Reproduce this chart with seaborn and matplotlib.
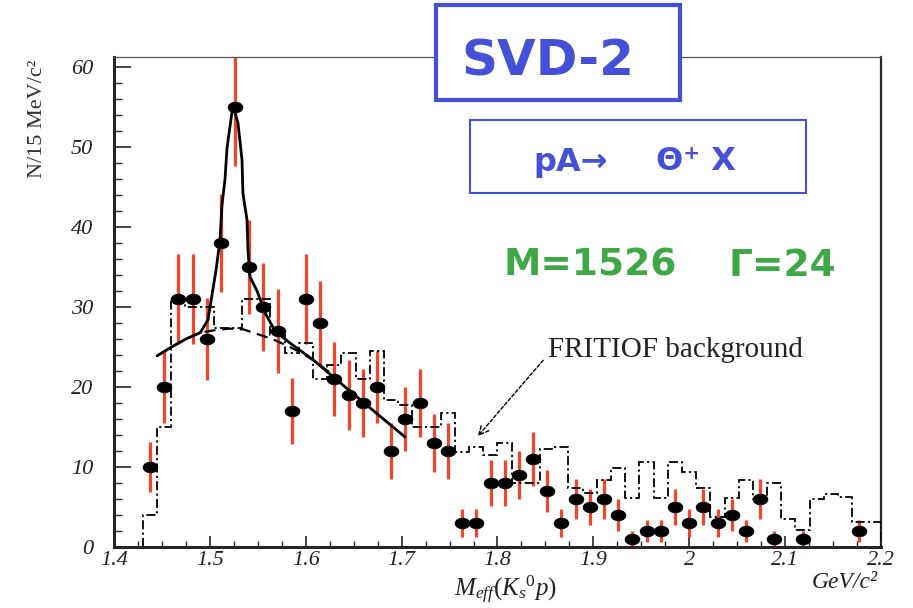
import numpy as np
import matplotlib
matplotlib.use("Agg")
import matplotlib.pyplot as plt
import seaborn as sns
import pandas as pd
from matplotlib.path import Path
from matplotlib.patches import Rectangle
from matplotlib.ticker import MultipleLocator, FixedLocator

# ---------------- data ----------------
mass = [1.4375, 1.4523, 1.4671, 1.4819, 1.4967, 1.5115, 1.5263, 1.5411, 1.5559, 1.5707,
        1.5855, 1.6003, 1.6151, 1.6299, 1.6447, 1.6595, 1.6743, 1.6891, 1.7039, 1.7187,
        1.7335, 1.7483, 1.7631, 1.7779, 1.7927, 1.8075, 1.8223, 1.8371, 1.8519, 1.8667,
        1.8815, 1.8963, 1.9111, 1.9259, 1.9407, 1.9555, 1.9703, 1.9851, 1.9999, 2.0147,
        2.0295, 2.0443, 2.0591, 2.0739, 2.0887, 2.1183, 2.1775]
counts = [10, 20, 31, 31, 26, 38, 55, 35, 30, 27,
          17, 31, 28, 21, 19, 18, 20, 12, 16, 18,
          13, 12, 3, 3, 8, 8, 9, 11, 7, 3,
          6, 5, 6, 4, 1, 2, 2, 5, 3, 5,
          3, 4, 2, 6, 1, 1, 2]

# FRITIOF background histogram
bkg_start = 1.43
bkg_width = 0.0148
bkg_values = [4, 15, 31, 30, 30, 27.4, 27.4, 31, 31, 26.5,
              24.3, 25.5, 21, 22.7, 24.3, 21, 24.5, 18.4, 17.7, 15,
              15, 16.7, 11.9, 12.5, 11.5, 13, 8, 8, 12.2, 12.5,
              7.4, 6.7, 8.4, 9.9, 6.1, 10.6, 6.1, 10.6, 9.4, 7.4,
              3.7, 6.1, 8.4, 6, 8, 3.5, 2.1, 6, 6.6, 6.3,
              3.1, 3.1]

# fit: signal + background (solid) and background only (dashed)
fit_x = [1.445, 1.46, 1.475, 1.49, 1.498, 1.5064, 1.5106, 1.5126, 1.5158, 1.5179,
         1.5241, 1.5293, 1.5335, 1.5345, 1.5387, 1.5398, 1.5418, 1.5492, 1.5575, 1.5679,
         1.5836, 1.6076, 1.6535, 1.7035]
fit_y = [23.9, 25.0, 26.0, 26.8, 28.4, 34.6, 38.4, 42.7, 46.0, 49.9,
         55.25, 53.0, 48.4, 44.2, 40.9, 37.0, 33.8, 32.0, 29.3, 27.0,
         25.5, 23.4, 18.75, 13.75]
bg_x = [1.445, 1.46, 1.475, 1.49, 1.505, 1.52, 1.535, 1.55, 1.565, 1.58, 1.595, 1.61, 1.625]
bg_y = [23.9, 25.0, 26.0, 26.8, 27.1, 27.3, 27.2, 26.6, 26.0, 25.2, 24.3, 23.2, 21.8]

xticks = [1.4, 1.5, 1.6, 1.7, 1.8, 1.9, 2.0, 2.1, 2.2]
xtick_labels = ["1.4", "1.5", "1.6", "1.7", "1.8", "1.9", "2", "2.1", "2.2"]
yticks = [0, 10, 20, 30, 40, 50, 60]
ytick_labels = ["0", "10", "20", "30", "40", "50", "60"]

# ---------------- style ----------------
sns.set_style("ticks")
plt.rcParams["font.family"] = ["Liberation Serif", "DejaVu Sans"]
plt.rcParams["mathtext.fontset"] = "custom"
plt.rcParams["mathtext.it"] = "Liberation Serif:italic"
plt.rcParams["mathtext.rm"] = "Liberation Serif"

BLUE = "#4450D8"
GREEN = "#3EA846"
RED = "#F2452A"

W, H = 913, 608
fig = plt.figure(figsize=(W / 100, H / 100), dpi=100)
ax = fig.add_axes([114 / W, 1 - 547 / H, (881 - 114) / W, (547 - 57) / H])

df = pd.DataFrame({"mass": mass, "counts": counts})
df["err"] = np.sqrt(df["counts"])

# error bars
ax.errorbar(df["mass"], df["counts"], yerr=df["err"], fmt="none",
            ecolor=RED, elinewidth=2.3, capsize=0, zorder=2)

# FRITIOF histogram
edges = bkg_start + bkg_width * np.arange(len(bkg_values) + 1)
ax.stairs(bkg_values, edges, baseline=0, fill=False, color="black",
          linewidth=1.3, linestyle=(0, (5, 1.8, 1.2, 1.8)), zorder=3)

# fit curves
sns.lineplot(x=bg_x, y=bg_y, ax=ax, sort=False, estimator=None, color="black",
             linewidth=1.6, linestyle=(0, (5, 3)), zorder=3)
sns.lineplot(x=fit_x, y=fit_y, ax=ax, sort=False, estimator=None, color="black",
             linewidth=2.0, zorder=3)

# markers (slightly elliptical black dots)
t = np.linspace(0, 2 * np.pi, 41)
ell = Path(np.c_[1.35 * np.cos(t), np.sin(t)], closed=True)
sns.scatterplot(data=df, x="mass", y="counts", ax=ax, marker=ell, s=125,
                color="black", edgecolor="black", linewidth=0, zorder=4)

# axes
ax.set_xlim(1.4, 2.2)
ax.set_ylim(0, 61.25)
ax.set_xlabel("")
ax.set_ylabel("")
ax.xaxis.set_major_locator(FixedLocator(xticks))
ax.set_xticklabels(xtick_labels)
ax.xaxis.set_minor_locator(MultipleLocator(0.025))
ax.yaxis.set_major_locator(FixedLocator(yticks))
ax.set_yticklabels(ytick_labels)
ax.yaxis.set_minor_locator(MultipleLocator(2))
ax.tick_params(axis="y", which="major", direction="in", length=12, width=1.2,
               pad=15, labelsize=16, left=True, right=False)
ax.tick_params(axis="y", which="minor", direction="in", length=6, width=1.0,
               left=True, right=False)
ax.tick_params(axis="x", which="major", direction="in", length=8, width=1.2,
               pad=3, labelsize=16, bottom=True, top=False)
ax.tick_params(axis="x", which="minor", direction="in", length=4.5, width=1.0,
               bottom=True, top=False)
for lbl in ax.get_xticklabels() + ax.get_yticklabels():
    lbl.set_fontstyle("italic")
    lbl.set_fontfamily("Liberation Serif")
    lbl.set_color("#222222")

ax.spines["left"].set_linewidth(2.2)
ax.spines["bottom"].set_linewidth(2.2)
ax.spines["right"].set_linewidth(1.6)
ax.spines["top"].set_linewidth(0.9)
ax.spines["top"].set_color("#555555")
for s in ax.spines.values():
    s.set_visible(True)

# arrow + label
ax.annotate("", xy=(1.7776, 13.6), xytext=(1.8495, 23.6),
            arrowprops=dict(arrowstyle="->,head_length=0.7,head_width=0.35",
                            lw=1.0, linestyle=(0, (2.5, 1.5)), color="black"),
            zorder=5)
ax.text(1.8527, 24.6, "FRITIOF background", fontsize=21, va="center", ha="left",
        color="#222222", family="Liberation Serif")

# axis titles
fig.text(38 / W, 1 - 60 / H, "N/15 MeV/c²", rotation=90, ha="center", va="top",
         fontsize=16, family="Liberation Serif", color="#333333")
fig.text(505 / W, 1 - 590 / H, r"$M_{eff}(K_{s}{}^{0}p)$", ha="center", va="center",
         fontsize=18, color="#222222")
fig.text(878 / W, 1 - 582 / H, "GeV/c²", ha="right", va="center", fontsize=17,
         style="italic", family="Liberation Serif", color="#222222")

# blue boxes
fig.patches.append(Rectangle((436 / W, 1 - 100 / H), 244 / W, 95 / H,
                             transform=fig.transFigure, facecolor="white",
                             edgecolor=BLUE, linewidth=3.0, zorder=10))
fig.text(548 / W, 1 - 61 / H, "SVD-2", ha="center", va="center", fontsize=36,
         fontweight="bold", color=BLUE, family="DejaVu Sans", zorder=11)

fig.patches.append(Rectangle((470 / W, 1 - 193 / H), 336 / W, 73 / H,
                             transform=fig.transFigure, facecolor="white",
                             edgecolor=BLUE, linewidth=1.5, zorder=10))
fig.text(571 / W, 1 - 162 / H, "pA→", ha="center", va="center", fontsize=23,
         fontweight="bold", color=BLUE, family="DejaVu Sans", zorder=11)
fig.text(696 / W, 1 - 162 / H, "Θ⁺ X", ha="center", va="center", fontsize=23,
         fontweight="bold", color=BLUE, family="DejaVu Sans", zorder=11)

# green fit results
fig.text(590 / W, 1 - 266 / H, "M=1526", ha="center", va="center", fontsize=27,
         fontweight="bold", color=GREEN, family="DejaVu Sans")
fig.text(782 / W, 1 - 266 / H, "Γ=24", ha="center", va="center", fontsize=27,
         fontweight="bold", color=GREEN, family="DejaVu Sans")

fig.savefig("out.png", dpi=100, facecolor="white")
